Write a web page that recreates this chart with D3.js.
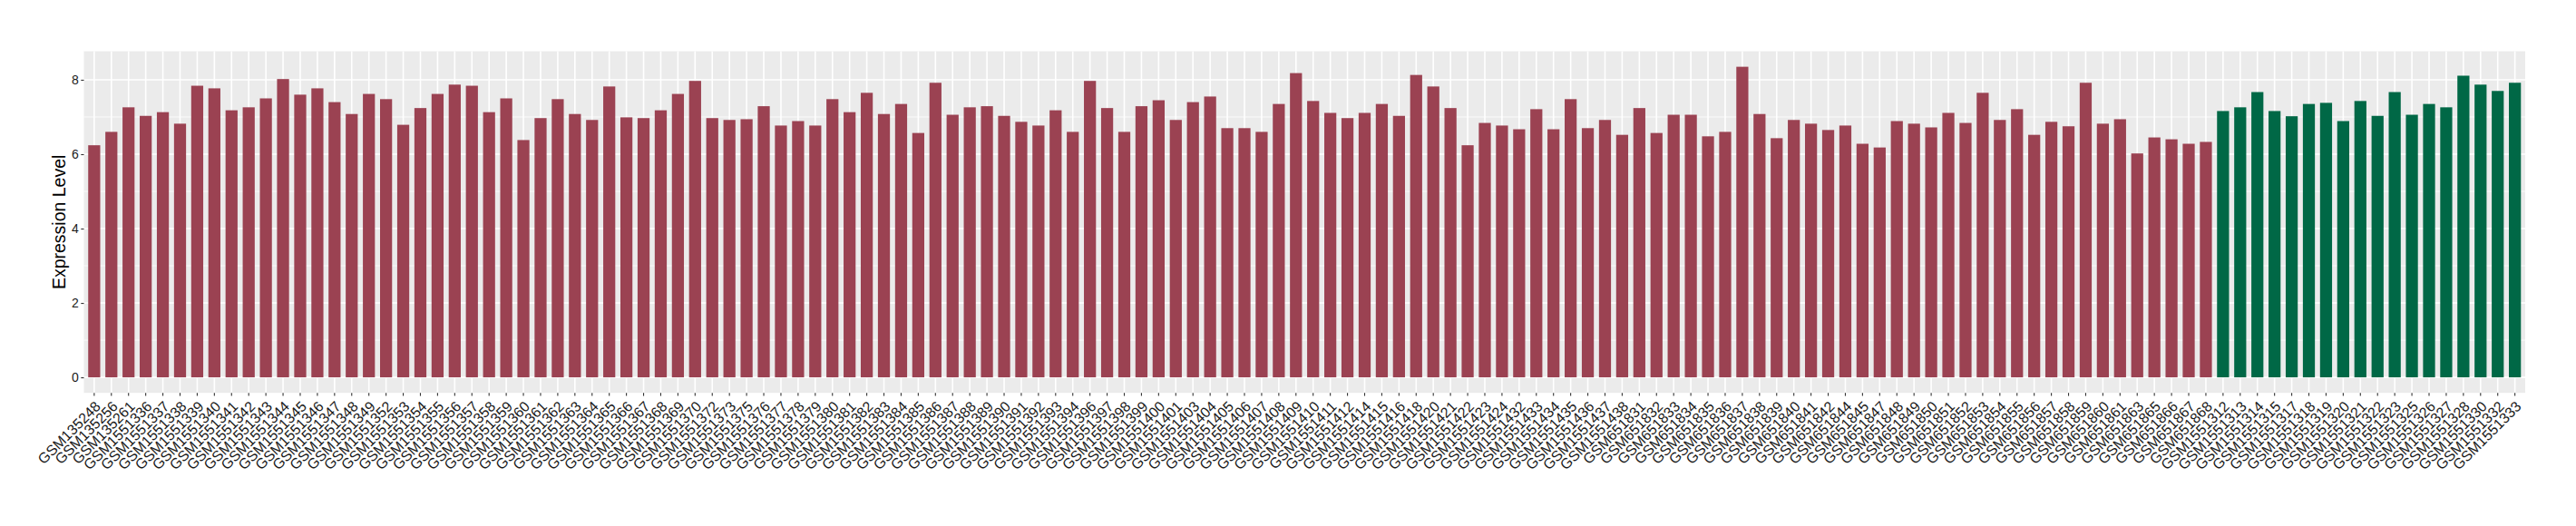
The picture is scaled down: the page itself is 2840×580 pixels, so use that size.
<!DOCTYPE html>
<html>
<head>
<meta charset="utf-8">
<script src="https://cdn.jsdelivr.net/npm/d3@7"></script>
<style>
  body { margin: 0; background: #fff; }
  svg { display: block; }
</style>
</head>
<body>
<div id="chart"></div>
<script>
const width = 2840,
  height = 580,
  margin = { top: 56.5, right: 56, bottom: 146.8, left: 92.5 }

// first group of samples (dark red)
const samplesA = ["GSM135248","GSM135256","GSM135261","GSM1551336","GSM1551337","GSM1551338","GSM1551339","GSM1551340","GSM1551341","GSM1551342",
  "GSM1551343","GSM1551344","GSM1551345","GSM1551346","GSM1551347","GSM1551348","GSM1551349","GSM1551352","GSM1551353","GSM1551354",
  "GSM1551355","GSM1551356","GSM1551357","GSM1551358","GSM1551359","GSM1551360","GSM1551361","GSM1551362","GSM1551363","GSM1551364",
  "GSM1551365","GSM1551366","GSM1551367","GSM1551368","GSM1551369","GSM1551370","GSM1551372","GSM1551373","GSM1551375","GSM1551376",
  "GSM1551377","GSM1551378","GSM1551379","GSM1551380","GSM1551381","GSM1551382","GSM1551383","GSM1551384","GSM1551385","GSM1551386",
  "GSM1551387","GSM1551388","GSM1551389","GSM1551390","GSM1551391","GSM1551392","GSM1551393","GSM1551394","GSM1551396","GSM1551397",
  "GSM1551398","GSM1551399","GSM1551400","GSM1551401","GSM1551403","GSM1551404","GSM1551405","GSM1551406","GSM1551407","GSM1551408",
  "GSM1551409","GSM1551410","GSM1551411","GSM1551412","GSM1551414","GSM1551415","GSM1551416","GSM1551418","GSM1551420","GSM1551421",
  "GSM1551422","GSM1551423","GSM1551424","GSM1551432","GSM1551433","GSM1551434","GSM1551435","GSM1551436","GSM1551437","GSM1551438",
  "GSM651831","GSM651832","GSM651833","GSM651834","GSM651835","GSM651836","GSM651837","GSM651838","GSM651839","GSM651840",
  "GSM651841","GSM651842","GSM651844","GSM651845","GSM651847","GSM651848","GSM651849","GSM651850","GSM651851","GSM651852",
  "GSM651853","GSM651854","GSM651855","GSM651856","GSM651857","GSM651858","GSM651859","GSM651860","GSM651861","GSM651863",
  "GSM651865","GSM651866","GSM651867","GSM651868"]
const valuesA = [6.24,6.60,7.26,7.03,7.13,6.82,7.84,7.77,7.18,7.26,
  7.50,8.02,7.60,7.77,7.40,7.08,7.62,7.48,6.79,7.24,
  7.62,7.87,7.84,7.13,7.50,6.38,6.97,7.48,7.08,6.92,
  7.82,6.99,6.97,7.18,7.62,7.97,6.97,6.92,6.94,7.29,
  6.77,6.89,6.77,7.48,7.13,7.65,7.08,7.35,6.57,7.92,
  7.06,7.26,7.29,7.03,6.87,6.77,7.18,6.60,7.97,7.24,
  6.60,7.29,7.45,6.92,7.40,7.55,6.70,6.70,6.60,7.35,
  8.18,7.43,7.11,6.97,7.11,7.35,7.03,8.13,7.82,7.24,
  6.24,6.84,6.77,6.67,7.21,6.67,7.48,6.70,6.92,6.52,
  7.24,6.57,7.06,7.06,6.48,6.60,8.35,7.08,6.43,6.92,
  6.82,6.65,6.77,6.28,6.18,6.89,6.82,6.72,7.11,6.84,
  7.65,6.92,7.21,6.52,6.87,6.75,7.92,6.82,6.94,6.02,
  6.45,6.40,6.28,6.33]

// second group of samples (dark green)
const samplesB = ["GSM1551312","GSM1551313","GSM1551314","GSM1551315","GSM1551317","GSM1551318","GSM1551319","GSM1551320","GSM1551321",
  "GSM1551322","GSM1551323","GSM1551325","GSM1551326","GSM1551327","GSM1551328","GSM1551330","GSM1551332","GSM1551333"]
const valuesB = [7.16,7.26,7.67,7.16,7.02,7.35,7.38,6.89,7.43,
  7.03,7.67,7.06,7.35,7.26,8.11,7.87,7.70,7.92]

const yTicks = [0, 2, 4, 6, 8]
const yMinorTicks = [1, 3, 5, 7]

const colorA = "#9b4252",
  colorB = "#006846"

let data = samplesA.map((s, i) => ({ sample: s, value: valuesA[i], color: colorA }))
  .concat(samplesB.map((s, i) => ({ sample: s, value: valuesB[i], color: colorB })))

const svg = d3.select("#chart")
  .append("svg")
  .attr("width", width)
  .attr("height", height)
  .style("background", "#fff")

const innerW = width - margin.left - margin.right,
  innerH = height - margin.top - margin.bottom

// ggplot style: 0.6 step on each side of the discrete axis
const x = d3.scaleBand()
  .domain(data.map(d => d.sample))
  .range([margin.left, margin.left + innerW])
  .paddingInner(0.3)
  .paddingOuter(0.25)

const yMax = d3.max(data, d => d.value)
const y = d3.scaleLinear()
  .domain([-0.05 * yMax, yMax * 1.05])
  .range([margin.top + innerH, margin.top])

// panel
svg.append("rect")
  .attr("x", margin.left)
  .attr("y", margin.top)
  .attr("width", innerW)
  .attr("height", innerH)
  .attr("fill", "#ebebeb")

const grid = svg.append("g").attr("class", "grid")

grid.selectAll(".minor")
  .data(yMinorTicks)
  .join("line")
  .attr("x1", margin.left)
  .attr("x2", margin.left + innerW)
  .attr("y1", d => y(d))
  .attr("y2", d => y(d))
  .attr("stroke", "#fff")
  .attr("stroke-width", 0.8)

grid.selectAll(".major")
  .data(yTicks)
  .join("line")
  .attr("x1", margin.left)
  .attr("x2", margin.left + innerW)
  .attr("y1", d => y(d))
  .attr("y2", d => y(d))
  .attr("stroke", "#fff")
  .attr("stroke-width", 1.6)

grid.selectAll(".vmajor")
  .data(data)
  .join("line")
  .attr("x1", d => x(d.sample) + x.bandwidth() / 2)
  .attr("x2", d => x(d.sample) + x.bandwidth() / 2)
  .attr("y1", margin.top)
  .attr("y2", margin.top + innerH)
  .attr("stroke", "#fff")
  .attr("stroke-width", 1.6)

// bars
svg.append("g")
  .selectAll("rect")
  .data(data)
  .join("rect")
  .attr("x", d => x(d.sample))
  .attr("width", x.bandwidth())
  .attr("y", d => y(d.value))
  .attr("height", d => y(0) - y(d.value))
  .attr("fill", d => d.color)

// y axis
const yAxis = svg.append("g")
  .attr("transform", `translate(${margin.left},0)`)
  .call(d3.axisLeft(y).tickValues(yTicks).tickSize(3.2).tickPadding(2.5))
yAxis.select(".domain").remove()
yAxis.selectAll("line").attr("stroke", "#333").attr("stroke-width", 1.1)
yAxis.selectAll("text")
  .attr("fill", "#1a1a1a")
  .style("font-family", "Liberation Sans, Arial, sans-serif")
  .style("font-size", "14px")

// x axis
const xAxis = svg.append("g")
  .attr("transform", `translate(0,${margin.top + innerH})`)
  .call(d3.axisBottom(x).tickSize(3.4).tickPadding(0))
xAxis.select(".domain").remove()
xAxis.selectAll("line").attr("stroke", "#333").attr("stroke-width", 1.1)
xAxis.selectAll("text")
  .attr("fill", "#1a1a1a")
  .attr("text-anchor", "end")
  .attr("dy", null)
  .attr("y", null)
  .attr("transform", "translate(8,16) rotate(-45)")
  .style("font-family", "Liberation Sans, Arial, sans-serif")
  .style("font-size", "16px")

// y title
svg.append("text")
  .attr("transform", `translate(72,${margin.top + innerH / 2}) rotate(-90)`)
  .attr("text-anchor", "middle")
  .style("font-family", "Liberation Sans, Arial, sans-serif")
  .style("font-size", "19.5px")
  .attr("fill", "#000")
  .text("Expression Level")
</script>
</body>
</html>
